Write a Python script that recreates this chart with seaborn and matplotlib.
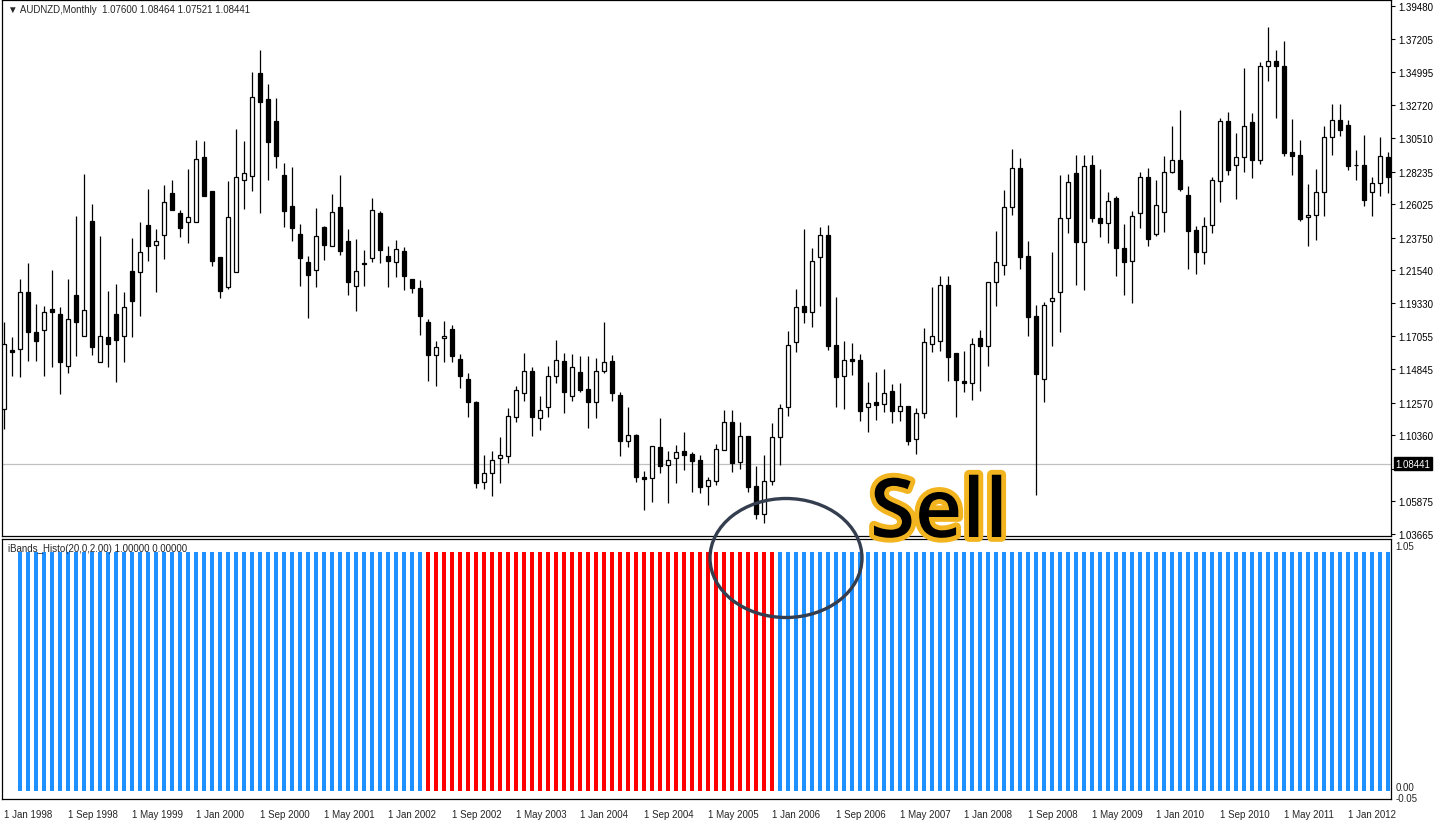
import numpy as np
import pandas as pd
import matplotlib.pyplot as plt
import matplotlib.patheffects as pe
from matplotlib.patches import Ellipse
import seaborn as sns

sns.set_style('white')
plt.rcParams['font.family'] = ['Liberation Sans', 'DejaVu Sans']

# AUDNZD monthly candles, Jan 1998 .. Jun 2012
opens = [1.1214, 1.1613, 1.1620, 1.2007, 1.1736, 1.1749, 1.1892, 1.1858, 1.1506, 1.1986,
         1.1709, 1.2488, 1.1533, 1.1702, 1.1858, 1.1709, 1.2149, 1.2143, 1.2461, 1.2325,
         1.2393, 1.2678, 1.2543, 1.2482, 1.2482, 1.2922, 1.2691, 1.2244, 1.2041, 1.2143,
         1.2766, 1.2794, 1.3492, 1.3315, 1.3166, 1.2800, 1.2590, 1.2400, 1.2211, 1.2156,
         1.2448, 1.2319, 1.2583, 1.2352, 1.2048, 1.2204, 1.2237, 1.2543, 1.2251, 1.2211,
         1.2284, 1.2095, 1.2034, 1.1804, 1.1579, 1.1695, 1.1756, 1.1553, 1.1417, 1.1261,
         1.0719, 1.0780, 1.0881, 1.0895, 1.1160, 1.1322, 1.1471, 1.1153, 1.1227, 1.1438,
         1.1539, 1.1302, 1.1465, 1.1349, 1.1261, 1.1471, 1.1539, 1.1308, 1.0996, 1.1037,
         1.0753, 1.0746, 1.0956, 1.0834, 1.0881, 1.0928, 1.0908, 1.0868, 1.0692, 1.0726,
         1.0935, 1.1126, 1.0855, 1.1031, 1.0692, 1.0502, 1.0726, 1.1024, 1.1227, 1.1668,
         1.1912, 1.1872, 1.2244, 1.2393, 1.1647, 1.1438, 1.1553, 1.1546, 1.1227, 1.1261,
         1.1247, 1.1336, 1.1200, 1.1234, 1.1010, 1.1187, 1.1654, 1.1674, 1.2054, 1.1593,
         1.1403, 1.1390, 1.1695, 1.1641, 1.2075, 1.2190, 1.2583, 1.2848, 1.2251, 1.1845,
         1.1417, 1.1945, 1.2007, 1.2509, 1.2814, 1.2346, 1.2868, 1.2509, 1.2475, 1.2644,
         1.2305, 1.2217, 1.2543, 1.2787, 1.2400, 1.2550, 1.2820, 1.2902, 1.2664, 1.2427,
         1.2278, 1.2461, 1.2759, 1.3166, 1.2868, 1.2922, 1.3160, 1.2902, 1.3539, 1.3573,
         1.3539, 1.2956, 1.2936, 1.2516, 1.2529, 1.2685, 1.3058, 1.3173, 1.3139, 1.2868,
         1.2868, 1.2685, 1.2746, 1.2922]
highs = [1.1804, 1.1702, 1.2095, 1.2204, 1.1925, 1.1912, 1.2156, 1.1905, 1.2095, 1.2523,
         1.2807, 1.2603, 1.2387, 1.2013, 1.2061, 1.2007, 1.2373, 1.2482, 1.2705, 1.2434,
         1.2732, 1.2766, 1.2563, 1.2841, 1.3037, 1.3030, 1.2691, 1.2244, 1.2759, 1.3112,
         1.3030, 1.3499, 1.3647, 1.3417, 1.3322, 1.2882, 1.2855, 1.2468, 1.2251, 1.2576,
         1.2455, 1.2671, 1.2800, 1.2434, 1.2366, 1.2291, 1.2644, 1.2556, 1.2319, 1.2359,
         1.2312, 1.2095, 1.2088, 1.1824, 1.1674, 1.1810, 1.1783, 1.1586, 1.1458, 1.1267,
         1.0901, 1.0928, 1.1024, 1.1220, 1.1370, 1.1593, 1.1499, 1.1302, 1.1506, 1.1681,
         1.1593, 1.1586, 1.1573, 1.1573, 1.1559, 1.1804, 1.1579, 1.1329, 1.1227, 1.1044,
         1.0793, 1.0962, 1.1153, 1.0928, 1.0969, 1.1058, 1.0922, 1.0901, 1.0753, 1.0976,
         1.1207, 1.1207, 1.1126, 1.1031, 1.0827, 1.0901, 1.1119, 1.1247, 1.1742, 1.2027,
         1.2434, 1.2305, 1.2448, 1.2461, 1.1973, 1.1674, 1.1661, 1.1586, 1.1397, 1.1465,
         1.1485, 1.1383, 1.1390, 1.1234, 1.1220, 1.1763, 1.2041, 1.2116, 1.2116, 1.1593,
         1.1606, 1.1695, 1.1749, 1.2075, 1.2420, 1.2698, 1.2976, 1.2915, 1.2352, 1.1918,
         1.1939, 1.2278, 1.2800, 1.2807, 1.2936, 1.2936, 1.2936, 1.2841, 1.2685, 1.2658,
         1.2468, 1.2556, 1.2820, 1.2848, 1.2766, 1.2929, 1.3132, 1.3241, 1.2725, 1.2455,
         1.2516, 1.2787, 1.3187, 1.3227, 1.3085, 1.3526, 1.3221, 1.3566, 1.3804, 1.3647,
         1.3708, 1.3180, 1.3037, 1.2739, 1.2841, 1.3132, 1.3281, 1.3281, 1.3173, 1.2969,
         1.3071, 1.2787, 1.3058, 1.2956]
lows = [1.1078, 1.1438, 1.1431, 1.1539, 1.1539, 1.1438, 1.1499, 1.1315, 1.1458, 1.1573,
        1.1709, 1.1579, 1.1533, 1.1499, 1.1397, 1.1533, 1.1702, 1.1845, 1.2217, 1.2007,
        1.2231, 1.2563, 1.2380, 1.2339, 1.2482, 1.2658, 1.2184, 1.1966, 1.2027, 1.2143,
        1.2570, 1.2691, 1.2543, 1.2766, 1.2848, 1.2448, 1.2352, 1.2048, 1.1831, 1.2041,
        1.2224, 1.2319, 1.2257, 1.1986, 1.1878, 1.2048, 1.2211, 1.2204, 1.2041, 1.2109,
        1.2020, 1.2000, 1.1715, 1.1403, 1.1370, 1.1533, 1.1533, 1.1356, 1.1160, 1.0678,
        1.0671, 1.0624, 1.0712, 1.0848, 1.1126, 1.1267, 1.1031, 1.1071, 1.1160, 1.1390,
        1.1187, 1.1267, 1.1329, 1.1085, 1.1153, 1.1458, 1.1267, 1.0895, 1.0956, 1.0719,
        1.0529, 1.0583, 1.0780, 1.0576, 1.0712, 1.0800, 1.0651, 1.0644, 1.0563, 1.0698,
        1.0935, 1.0787, 1.0807, 1.0651, 1.0468, 1.0441, 1.0698, 1.0834, 1.1167, 1.1600,
        1.1797, 1.1770, 1.1912, 1.1613, 1.1227, 1.1214, 1.1444, 1.1132, 1.1058, 1.1139,
        1.1193, 1.1119, 1.1132, 1.0969, 1.0908, 1.1153, 1.1600, 1.1606, 1.1403, 1.1160,
        1.1329, 1.1274, 1.1336, 1.1506, 1.1912, 1.2122, 1.2529, 1.2163, 1.1709, 1.0630,
        1.1261, 1.1641, 1.1736, 1.2407, 1.2054, 1.2020, 1.2482, 1.2380, 1.2339, 1.2116,
        1.1986, 1.1932, 1.2441, 1.2319, 1.2387, 1.2414, 1.2814, 1.2691, 1.2163, 1.2129,
        1.2197, 1.2407, 1.2617, 1.2800, 1.2637, 1.2820, 1.2780, 1.2875, 1.3437, 1.3187,
        1.2929, 1.2800, 1.2488, 1.2319, 1.2359, 1.2523, 1.2936, 1.3064, 1.2834, 1.2766,
        1.2590, 1.2523, 1.2658, 1.2678]
closes = [1.1654, 1.1600, 1.2007, 1.1736, 1.1674, 1.1872, 1.1872, 1.1533, 1.1824, 1.1804,
          1.1885, 1.1634, 1.1709, 1.1654, 1.1681, 1.1905, 1.1945, 1.2278, 1.2319, 1.2352,
          1.2617, 1.2563, 1.2441, 1.2516, 1.2909, 1.2658, 1.2217, 1.2013, 1.2516, 1.2787,
          1.2814, 1.3329, 1.3295, 1.3024, 1.2929, 1.2556, 1.2441, 1.2237, 1.2122, 1.2387,
          1.2325, 1.2550, 1.2284, 1.2075, 1.2149, 1.2200, 1.2563, 1.2291, 1.2217, 1.2298,
          1.2116, 1.2034, 1.1845, 1.1579, 1.1634, 1.1709, 1.1573, 1.1438, 1.1261, 1.0712,
          1.0780, 1.0868, 1.0901, 1.1167, 1.1342, 1.1471, 1.1160, 1.1207, 1.1438, 1.1546,
          1.1329, 1.1499, 1.1342, 1.1261, 1.1471, 1.1533, 1.1322, 1.0996, 1.1037, 1.0753,
          1.0739, 1.0962, 1.0827, 1.0868, 1.0922, 1.0901, 1.0861, 1.0685, 1.0732, 1.0942,
          1.1126, 1.0848, 1.1031, 1.0685, 1.0502, 1.0726, 1.1024, 1.1220, 1.1647, 1.1905,
          1.1872, 1.2217, 1.2393, 1.1641, 1.1431, 1.1546, 1.1539, 1.1200, 1.1254, 1.1240,
          1.1322, 1.1200, 1.1234, 1.0996, 1.1187, 1.1668, 1.1709, 1.2054, 1.1566, 1.1410,
          1.1390, 1.1654, 1.1641, 1.2075, 1.2211, 1.2583, 1.2848, 1.2244, 1.1838, 1.1451,
          1.1918, 1.1966, 1.2509, 1.2752, 1.2346, 1.2861, 1.2509, 1.2475, 1.2623, 1.2305,
          1.2211, 1.2523, 1.2787, 1.2366, 1.2596, 1.2820, 1.2902, 1.2705, 1.2420, 1.2278,
          1.2455, 1.2766, 1.3166, 1.2834, 1.2922, 1.3132, 1.2902, 1.3539, 1.3573, 1.3539,
          1.2949, 1.2929, 1.2502, 1.2529, 1.2685, 1.3058, 1.3173, 1.3105, 1.2861, 1.2865,
          1.2630, 1.2746, 1.2929, 1.2787]

date_labels = ['1 Jan 1998', '1 Sep 1998', '1 May 1999', '1 Jan 2000', '1 Sep 2000',
               '1 May 2001', '1 Jan 2002', '1 Sep 2002', '1 May 2003', '1 Jan 2004',
               '1 Sep 2004', '1 May 2005', '1 Jan 2006', '1 Sep 2006', '1 May 2007',
               '1 Jan 2008', '1 Sep 2008', '1 May 2009', '1 Jan 2010', '1 Sep 2010',
               '1 May 2011', '1 Jan 2012']
date_label_bars = [0, 8, 16, 24, 32, 40, 48, 56, 64, 72, 80, 88, 96, 104, 112, 120,
                   128, 136, 144, 152, 160, 168]

price_ticks = [1.39480, 1.37205, 1.34995, 1.32720, 1.30510, 1.28235, 1.26025, 1.23750,
               1.21540, 1.19330, 1.17055, 1.14845, 1.12570, 1.10360, 1.08085, 1.05875,
               1.03665]
last_price = 1.08441

# iBands_Histo buffer: every bar = 1.0, colour by signal (runs of bars from bar 2)
hist_first_bar = 2
hist_runs = [('up', 51), ('down', 44), ('up', 77)]
hist_value = 1.0

# ---------------------------------------------------------------
fig = plt.figure(figsize=(14.43, 8.28), dpi=100)
W, H = 1443, 828
ax = fig.add_axes([2 / W, 1 - 537 / H, 1389 / W, 536 / H])
axh = fig.add_axes([2 / W, 1 - 800 / H, 1389 / W, 260 / H])

xs = np.arange(len(opens))
o = np.array(opens); c = np.array(closes)
up = c >= o

# candles
ax.vlines(xs, lows, highs, color='black', linewidth=0.9, zorder=2)
ax.bar(xs, np.abs(c - o), bottom=np.minimum(o, c), width=0.55,
       color=np.where(up, 'white', 'black'), edgecolor='black', linewidth=0.9, zorder=3)

ax.axhline(last_price, color='#C0C0C0', linewidth=0.9, zorder=1)

ax.set_xlim(-0.25, 173.375)
ax.set_ylim(1.03525, 1.3987)
ax.set_xticks([])
ax.yaxis.tick_right()
ax.set_yticks(price_ticks)
# the 1.08085 label sits under the last-price box
ax.set_yticklabels(['' if t == 1.08085 else f'{t:.5f}' for t in price_ticks])
ax.tick_params(axis='y', direction='out', length=3, width=0.8, labelsize=7, pad=2,
               colors='black', right=True)

ax.text(1.003, last_price, f'{last_price:.5f}', transform=ax.get_yaxis_transform(),
        ha='left', va='center', fontsize=7, color='white', zorder=10, clip_on=False,
        bbox=dict(boxstyle='square,pad=0.15', facecolor='black', edgecolor='black'))

ax.text(6 / 1389, 1 - 9 / 536, '\u25bc AUDNZD,Monthly  1.07600 1.08464 1.07521 1.08441',
        transform=ax.transAxes, fontsize=7, va='center', ha='left')

# histogram pane
sig = []
for name, n in hist_runs:
    sig += [name] * n
hist_df = pd.DataFrame({'bar': np.arange(hist_first_bar, hist_first_bar + len(sig)),
                        'value': hist_value, 'signal': sig})
sns.barplot(data=hist_df, x='bar', y='value', hue='signal', native_scale=True,
            palette={'up': '#1E90FF', 'down': '#FF0000'}, saturation=1, width=0.62,
            dodge=False, legend=False, linewidth=0, ax=axh)

axh.set_xlim(-0.25, 173.375)
axh.set_ylim(-0.033, 1.054)
axh.set_xlabel(''); axh.set_ylabel('')
axh.set_yticks([])
axh.set_xticks(date_label_bars)
axh.set_xticklabels(date_labels, ha='left')
axh.tick_params(axis='x', direction='out', length=4, width=0.8, labelsize=7, pad=3)
axh.text(1.003, 1 - 7 / 260, '1.05', transform=axh.transAxes, fontsize=7,
         va='center', ha='left', clip_on=False)
axh.text(1.003, 12 / 260, '0.00', transform=axh.transAxes, fontsize=7,
         va='center', ha='left', clip_on=False)
axh.text(1.003, 1 / 260, '-0.05', transform=axh.transAxes, fontsize=7,
         va='center', ha='left', clip_on=False)
axh.text(6 / 1389, 1 - 9 / 260, 'iBands_Histo(20,0,2.00) 1.00000 0.00000',
         transform=axh.transAxes, fontsize=7, va='center', ha='left')

for a in (ax, axh):
    for s in a.spines.values():
        s.set_color('black')
        s.set_linewidth(0.9)

# annotation
ell = Ellipse((786 / W, 1 - 559 / H), 152 / W, 119 / H, transform=fig.transFigure,
              fill=False, edgecolor='#343E4E', linewidth=2.4, zorder=20)
fig.add_artist(ell)
sell = fig.text(870 / W, 1 - 538 / H, 'Sell', fontsize=59, fontfamily='Open Sans',
                fontweight='semibold', color='black', ha='left', va='baseline', zorder=21)
sell.set_path_effects([pe.withStroke(linewidth=7, foreground='#F2B520')])

fig.savefig('out.png', dpi=100, facecolor='white')
